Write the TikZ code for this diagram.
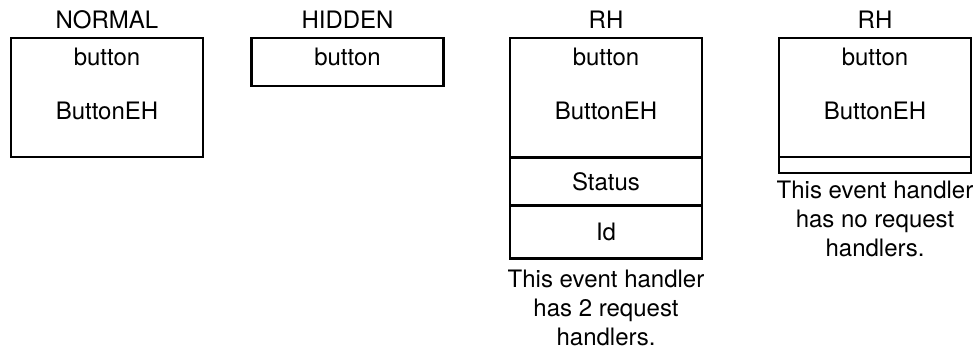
\documentclass[tikz,border=0pt]{standalone}
\usepackage{fontspec}
\setmainfont{TeX Gyre Heros}
\usetikzlibrary{positioning}

\tikzset{
  ehbox/.style={draw,line width=2.2pt,minimum width=192pt,inner sep=0pt},
  ehtext/.style={inner sep=0pt,font=\fontsize{24}{29}\selectfont},
  ehnote/.style={ehtext,align=center}
}

\begin{document}
\begin{tikzpicture}[x=1pt,y=-1pt]

  \useasboundingbox (0,0) rectangle (974,350);

  % event handler boxes
  \node[ehbox,minimum height=119pt] (normal)  at (107,97.5) {};
  \node[ehbox,minimum height=48pt]  (hidden)  at (347.5,62) {};
  \node[ehbox,minimum height=119pt] (rh)      at (606,97.5) {};
  \node[ehbox,minimum height=48pt]  (status)  at (606,181.5) {};
  \node[ehbox,minimum height=53pt]  (id)      at (606,232) {};
  \node[ehbox,minimum height=119pt] (rhempty) at (875,97.5) {};
  \node[ehbox,minimum height=16pt]  (strip)   at (875,165) {};

  % titles
  \node[ehtext] (normal title)  at ([yshift=17pt]normal.north)  {NORMAL};
  \node[ehtext] (hidden title)  at ([yshift=17pt]hidden.north)  {HIDDEN};
  \node[ehtext] (rh title)      at ([yshift=17pt]rh.north)      {RH};
  \node[ehtext] (rhempty title) at ([yshift=17pt]rhempty.north) {RH};

  % contents
  \node[ehtext] (normal button)  at ([yshift=-20pt]normal.north)  {button};
  \node[ehtext] (normal eh)      at ([yshift=-74pt]normal.north)  {ButtonEH};
  \node[ehtext] (hidden button)  at ([yshift=-20pt]hidden.north)  {button};
  \node[ehtext] (rh button)      at ([yshift=-20pt]rh.north)      {button};
  \node[ehtext] (rh eh)          at ([yshift=-74pt]rh.north)      {ButtonEH};
  \node[ehtext] (rhempty button) at ([yshift=-20pt]rhempty.north) {button};
  \node[ehtext] (rhempty eh)     at ([yshift=-74pt]rhempty.north) {ButtonEH};
  \node[ehtext] (status text)    at (status.center) {Status};
  \node[ehtext] (id text)        at (id.center)     {Id};

  % notes
  \node[ehnote] (rh note)      at ([yshift=-48pt]id.south)    {This event handler\\has 2 request\\handlers.};
  \node[ehnote] (rhempty note) at ([yshift=-45pt]strip.south) {This event handler\\has no request\\handlers.};

\end{tikzpicture}
\end{document}
